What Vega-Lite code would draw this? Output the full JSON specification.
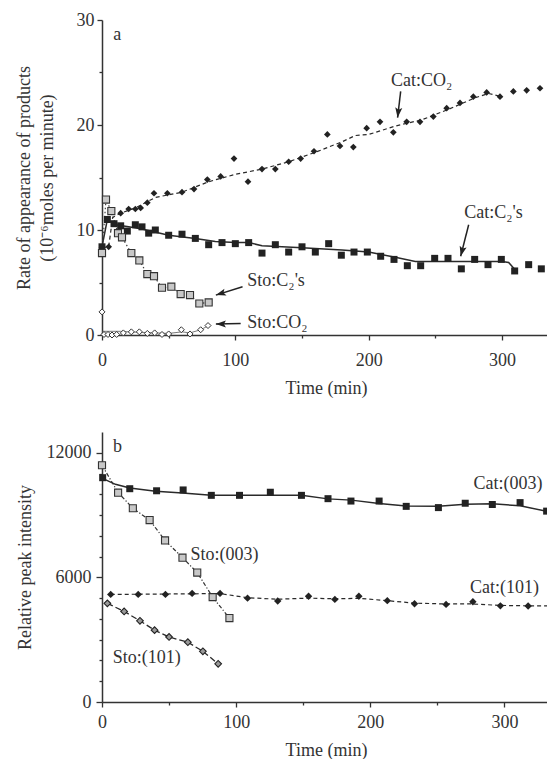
{
  "$schema": "https://vega.github.io/schema/vega-lite/v6.json",
  "background": "white",
  "padding": {"left": 15, "top": 11, "right": 0, "bottom": 0},
  "spacing": 35,
  "config": {
    "view": {"stroke": null},
    "font": "Liberation Serif",
    "axis": {
      "grid": false, "domainColor": "#333", "domainWidth": 1.5, "tickColor": "#333", "tickWidth": 1.3,
      "labelFont": "Liberation Serif", "labelFontSize": 18, "labelColor": "#333", "labelFlush": false, "labelOverlap": false,
      "titleFont": "Liberation Serif", "titleFontSize": 18, "titleFontWeight": "normal", "titleColor": "#333"
    },
    "text": {"font": "Liberation Serif", "fontSize": 18, "fill": "#333"}
  },
  "datasets": {
    "a_pts": [
      {"series":"Cat:CO2","t":0,"v":8.3},{"series":"Cat:CO2","t":5,"v":8.4},{"series":"Cat:CO2","t":14,"v":11.6},{"series":"Cat:CO2","t":20,"v":12.0},{"series":"Cat:CO2","t":25,"v":12.0},{"series":"Cat:CO2","t":29,"v":12.1},{"series":"Cat:CO2","t":34,"v":12.6},{"series":"Cat:CO2","t":39,"v":13.5},{"series":"Cat:CO2","t":49,"v":13.5},{"series":"Cat:CO2","t":60,"v":13.6},{"series":"Cat:CO2","t":69,"v":13.9},{"series":"Cat:CO2","t":79,"v":14.8},{"series":"Cat:CO2","t":89,"v":15.1},{"series":"Cat:CO2","t":99,"v":16.8},{"series":"Cat:CO2","t":109.5,"v":14.6},{"series":"Cat:CO2","t":120,"v":15.8},{"series":"Cat:CO2","t":130,"v":15.8},{"series":"Cat:CO2","t":140,"v":16.5},{"series":"Cat:CO2","t":149,"v":16.8},{"series":"Cat:CO2","t":159,"v":17.5},{"series":"Cat:CO2","t":169,"v":19.1},{"series":"Cat:CO2","t":178.5,"v":18.0},{"series":"Cat:CO2","t":188.5,"v":17.9},{"series":"Cat:CO2","t":198.5,"v":19.7},{"series":"Cat:CO2","t":208.5,"v":20.3},{"series":"Cat:CO2","t":218.5,"v":19.3},{"series":"Cat:CO2","t":228.5,"v":20.3},{"series":"Cat:CO2","t":238.5,"v":20.3},{"series":"Cat:CO2","t":248.5,"v":20.8},{"series":"Cat:CO2","t":258.5,"v":21.6},{"series":"Cat:CO2","t":268.5,"v":22.1},{"series":"Cat:CO2","t":278.5,"v":22.7},{"series":"Cat:CO2","t":288.5,"v":23.1},{"series":"Cat:CO2","t":298.5,"v":22.7},{"series":"Cat:CO2","t":308.5,"v":23.2},{"series":"Cat:CO2","t":318.5,"v":23.3},{"series":"Cat:CO2","t":328.5,"v":23.5},
      {"series":"Cat:C2's","t":0,"v":8.4},{"series":"Cat:C2's","t":4,"v":11.0},{"series":"Cat:C2's","t":9,"v":10.6},{"series":"Cat:C2's","t":14,"v":10.4},{"series":"Cat:C2's","t":19,"v":9.9},{"series":"Cat:C2's","t":25,"v":10.5},{"series":"Cat:C2's","t":30,"v":10.3},{"series":"Cat:C2's","t":35,"v":9.7},{"series":"Cat:C2's","t":40,"v":10.0},{"series":"Cat:C2's","t":50,"v":9.5},{"series":"Cat:C2's","t":60,"v":9.6},{"series":"Cat:C2's","t":70,"v":9.2},{"series":"Cat:C2's","t":80,"v":8.6},{"series":"Cat:C2's","t":90,"v":8.8},{"series":"Cat:C2's","t":100,"v":8.7},{"series":"Cat:C2's","t":110,"v":8.8},{"series":"Cat:C2's","t":120,"v":7.8},{"series":"Cat:C2's","t":130,"v":8.6},{"series":"Cat:C2's","t":140,"v":7.9},{"series":"Cat:C2's","t":150,"v":8.4},{"series":"Cat:C2's","t":160,"v":7.9},{"series":"Cat:C2's","t":170,"v":8.7},{"series":"Cat:C2's","t":179.5,"v":7.6},{"series":"Cat:C2's","t":189,"v":7.9},{"series":"Cat:C2's","t":199,"v":7.9},{"series":"Cat:C2's","t":209,"v":7.5},{"series":"Cat:C2's","t":219,"v":7.2},{"series":"Cat:C2's","t":229,"v":6.6},{"series":"Cat:C2's","t":239,"v":6.6},{"series":"Cat:C2's","t":249.5,"v":7.3},{"series":"Cat:C2's","t":259.5,"v":7.3},{"series":"Cat:C2's","t":269.5,"v":6.3},{"series":"Cat:C2's","t":279.5,"v":7.2},{"series":"Cat:C2's","t":289.5,"v":6.7},{"series":"Cat:C2's","t":299.5,"v":7.2},{"series":"Cat:C2's","t":309.5,"v":6.1},{"series":"Cat:C2's","t":320,"v":6.7},{"series":"Cat:C2's","t":329.5,"v":6.3},
      {"series":"Sto:C2's","t":0,"v":7.8},{"series":"Sto:C2's","t":3,"v":12.9},{"series":"Sto:C2's","t":7,"v":11.8},{"series":"Sto:C2's","t":12,"v":9.7},{"series":"Sto:C2's","t":15,"v":9.3},{"series":"Sto:C2's","t":22,"v":7.8},{"series":"Sto:C2's","t":28,"v":7.1},{"series":"Sto:C2's","t":34,"v":5.8},{"series":"Sto:C2's","t":39,"v":5.6},{"series":"Sto:C2's","t":45,"v":4.5},{"series":"Sto:C2's","t":52,"v":4.6},{"series":"Sto:C2's","t":59,"v":3.9},{"series":"Sto:C2's","t":66,"v":3.8},{"series":"Sto:C2's","t":73,"v":3.0},{"series":"Sto:C2's","t":80,"v":3.1},
      {"series":"Sto:CO2","t":0,"v":2.2},{"series":"Sto:CO2","t":1.5,"v":0.05},{"series":"Sto:CO2","t":4.5,"v":0.05},{"series":"Sto:CO2","t":7.5,"v":0.0},{"series":"Sto:CO2","t":11,"v":0.05},{"series":"Sto:CO2","t":16,"v":0.2},{"series":"Sto:CO2","t":22,"v":0.3},{"series":"Sto:CO2","t":28,"v":0.3},{"series":"Sto:CO2","t":34,"v":0.15},{"series":"Sto:CO2","t":39.5,"v":0.2},{"series":"Sto:CO2","t":45,"v":0.05},{"series":"Sto:CO2","t":50,"v":0.1},{"series":"Sto:CO2","t":59.5,"v":0.5},{"series":"Sto:CO2","t":66,"v":0.1},{"series":"Sto:CO2","t":74,"v":0.5},{"series":"Sto:CO2","t":79.5,"v":0.9}
    ],
    "a_fit": [
      {"series":"Cat:CO2","t":0,"v":8.3},{"series":"Cat:CO2","t":5,"v":8.4},{"series":"Cat:CO2","t":8,"v":11.2},{"series":"Cat:CO2","t":14,"v":11.6},{"series":"Cat:CO2","t":25,"v":12.1},{"series":"Cat:CO2","t":40,"v":13.1},{"series":"Cat:CO2","t":60,"v":13.6},{"series":"Cat:CO2","t":80,"v":14.6},{"series":"Cat:CO2","t":100,"v":15.3},{"series":"Cat:CO2","t":120,"v":15.8},{"series":"Cat:CO2","t":140,"v":16.5},{"series":"Cat:CO2","t":160,"v":17.4},{"series":"Cat:CO2","t":180,"v":18.4},{"series":"Cat:CO2","t":190,"v":19.0},{"series":"Cat:CO2","t":200,"v":19.1},{"series":"Cat:CO2","t":220,"v":19.9},{"series":"Cat:CO2","t":240,"v":20.5},{"series":"Cat:CO2","t":260,"v":21.5},{"series":"Cat:CO2","t":280,"v":22.6},{"series":"Cat:CO2","t":290,"v":23.0},{"series":"Cat:CO2","t":300,"v":22.7},
      {"series":"Cat:C2's","t":0,"v":8.4},{"series":"Cat:C2's","t":4,"v":11.0},{"series":"Cat:C2's","t":10,"v":10.5},{"series":"Cat:C2's","t":20,"v":10.3},{"series":"Cat:C2's","t":30,"v":10.1},{"series":"Cat:C2's","t":50,"v":9.5},{"series":"Cat:C2's","t":70,"v":9.2},{"series":"Cat:C2's","t":85,"v":8.9},{"series":"Cat:C2's","t":100,"v":8.8},{"series":"Cat:C2's","t":110,"v":8.8},{"series":"Cat:C2's","t":120,"v":8.5},{"series":"Cat:C2's","t":150,"v":8.3},{"series":"Cat:C2's","t":180,"v":8.1},{"series":"Cat:C2's","t":200,"v":7.9},{"series":"Cat:C2's","t":220,"v":7.4},{"series":"Cat:C2's","t":235,"v":7.0},{"series":"Cat:C2's","t":250,"v":7.0},{"series":"Cat:C2's","t":300,"v":7.0},{"series":"Cat:C2's","t":305,"v":6.9},{"series":"Cat:C2's","t":310,"v":6.2},
      {"series":"Sto:CO2","t":0,"v":0.35},{"series":"Sto:CO2","t":14,"v":0.35},{"series":"Sto:CO2","t":20,"v":0.3},{"series":"Sto:CO2","t":30,"v":0.25},{"series":"Sto:CO2","t":40,"v":0.2},{"series":"Sto:CO2","t":50,"v":0.15},{"series":"Sto:CO2","t":60,"v":0.3},{"series":"Sto:CO2","t":66,"v":0.2},{"series":"Sto:CO2","t":74,"v":0.5},{"series":"Sto:CO2","t":80,"v":0.9}
    ],
    "a_lab": [
      {"label":"a","t":8.4,"v":28.6},{"label":"Cat:CO₂","t":216.7,"v":24.2},{"label":"Cat:C₂'s","t":271.7,"v":11.6},{"label":"Sto:C₂'s","t":109,"v":5.1},{"label":"Sto:CO₂","t":109,"v":1.1}
    ],
    "a_arr": [
      {"id":"catco2","t":224,"v":23.2,"t2":221.7,"v2":20.7},{"id":"catc2","t":275,"v":10.5,"t2":269,"v2":7.5},{"id":"stoc2","t":105.4,"v":4.6,"t2":85.4,"v2":3.8},{"id":"stoco2","t":104,"v":1.1,"t2":85.4,"v2":1.05}
    ],
    "b_pts": [
      {"series":"Cat:(003)","t":0.5,"v":10800},{"series":"Cat:(003)","t":20.7,"v":10270},{"series":"Cat:(003)","t":40.7,"v":10170},{"series":"Cat:(003)","t":60.5,"v":10210},{"series":"Cat:(003)","t":81.5,"v":9950},{"series":"Cat:(003)","t":102.5,"v":9950},{"series":"Cat:(003)","t":125.5,"v":10100},{"series":"Cat:(003)","t":148.7,"v":9950},{"series":"Cat:(003)","t":168.5,"v":9790},{"series":"Cat:(003)","t":185.6,"v":9675},{"series":"Cat:(003)","t":206.6,"v":9675},{"series":"Cat:(003)","t":226.8,"v":9420},{"series":"Cat:(003)","t":250.8,"v":9360},{"series":"Cat:(003)","t":270.8,"v":9570},{"series":"Cat:(003)","t":291,"v":9510},{"series":"Cat:(003)","t":311.7,"v":9600},{"series":"Cat:(003)","t":331.5,"v":9190},
      {"series":"Sto:(003)","t":0,"v":11400},{"series":"Sto:(003)","t":12,"v":10080},{"series":"Sto:(003)","t":23,"v":9330},{"series":"Sto:(003)","t":35.5,"v":8760},{"series":"Sto:(003)","t":47,"v":7780},{"series":"Sto:(003)","t":60,"v":6950},{"series":"Sto:(003)","t":71,"v":6230},{"series":"Sto:(003)","t":82.5,"v":5050},{"series":"Sto:(003)","t":95,"v":4040},
      {"series":"Cat:(101)","t":6.5,"v":5180},{"series":"Cat:(101)","t":27,"v":5180},{"series":"Cat:(101)","t":47.3,"v":5180},{"series":"Cat:(101)","t":67.2,"v":5230},{"series":"Cat:(101)","t":88,"v":5230},{"series":"Cat:(101)","t":108.5,"v":5000},{"series":"Cat:(101)","t":131,"v":4860},{"series":"Cat:(101)","t":154,"v":5090},{"series":"Cat:(101)","t":173.6,"v":4940},{"series":"Cat:(101)","t":191.5,"v":5090},{"series":"Cat:(101)","t":212.7,"v":4880},{"series":"Cat:(101)","t":233,"v":4730},{"series":"Cat:(101)","t":256.5,"v":4700},{"series":"Cat:(101)","t":276.5,"v":4830},{"series":"Cat:(101)","t":297,"v":4630},{"series":"Cat:(101)","t":317.7,"v":4620},
      {"series":"Sto:(101)","t":4,"v":4750},{"series":"Sto:(101)","t":16.5,"v":4360},{"series":"Sto:(101)","t":28.3,"v":3910},{"series":"Sto:(101)","t":39.2,"v":3460},{"series":"Sto:(101)","t":50,"v":3130},{"series":"Sto:(101)","t":64,"v":2880},{"series":"Sto:(101)","t":75.2,"v":2440},{"series":"Sto:(101)","t":86.6,"v":1840}
    ],
    "b_fit": [
      {"series":"Cat:(003)","t":0,"v":10780},{"series":"Cat:(003)","t":10,"v":10480},{"series":"Cat:(003)","t":20.7,"v":10300},{"series":"Cat:(003)","t":40,"v":10150},{"series":"Cat:(003)","t":60,"v":10060},{"series":"Cat:(003)","t":81.5,"v":9960},{"series":"Cat:(003)","t":102.5,"v":9950},{"series":"Cat:(003)","t":125,"v":9950},{"series":"Cat:(003)","t":148.7,"v":9960},{"series":"Cat:(003)","t":168.5,"v":9780},{"series":"Cat:(003)","t":186,"v":9720},{"series":"Cat:(003)","t":206.6,"v":9560},{"series":"Cat:(003)","t":226.8,"v":9440},{"series":"Cat:(003)","t":250.8,"v":9420},{"series":"Cat:(003)","t":270.8,"v":9520},{"series":"Cat:(003)","t":291,"v":9540},{"series":"Cat:(003)","t":311.7,"v":9450},{"series":"Cat:(003)","t":331.5,"v":9180},
      {"series":"Cat:(101)","t":6.5,"v":5180},{"series":"Cat:(101)","t":88,"v":5220},{"series":"Cat:(101)","t":108.5,"v":5020},{"series":"Cat:(101)","t":131,"v":4950},{"series":"Cat:(101)","t":154,"v":5000},{"series":"Cat:(101)","t":173.6,"v":4970},{"series":"Cat:(101)","t":191.5,"v":4990},{"series":"Cat:(101)","t":212.7,"v":4880},{"series":"Cat:(101)","t":233,"v":4760},{"series":"Cat:(101)","t":256.5,"v":4720},{"series":"Cat:(101)","t":276.5,"v":4720},{"series":"Cat:(101)","t":297,"v":4650},{"series":"Cat:(101)","t":317.7,"v":4630},{"series":"Cat:(101)","t":334,"v":4630}
    ],
    "b_lab": [
      {"label":"b","t":8.2,"v":12300},{"label":"Cat:(003)","t":276.9,"v":10510},{"label":"Cat:(101)","t":274.4,"v":5500},{"label":"Sto:(003)","t":66,"v":7100},{"label":"Sto:(101)","t":8,"v":2120}
    ]
  },
  "vconcat": [
    {
      "width": 448, "height": 315,
      "encoding": {
        "x": {"field": "t", "type": "quantitative", "scale": {"domain": [0, 336], "nice": false, "zero": false},
          "axis": {"title": "Time (min)", "titleFontWeight": "normal", "values": [0, 50, 100, 150, 200, 250, 300],
            "labelExpr": "datum.value % 100 === 0 ? datum.label : ''",
            "tickSize": {"condition": {"test": "datum.value % 100 === 0", "value": 5}, "value": 3},
            "labelPadding": 11, "titlePadding": 10}},
        "y": {"field": "v", "type": "quantitative", "scale": {"domain": [0, 30], "nice": false},
          "axis": {"title": ["Rate of appearance of products", "(10⁻⁶moles per minute)"], "titleFontWeight": "normal", "titleLineHeight": 23,
            "values": [0, 5, 10, 15, 20, 25, 30],
            "labelExpr": "datum.value % 10 === 0 ? datum.label : ''",
            "tickSize": {"condition": {"test": "datum.value % 10 === 0", "value": 5}, "value": 3},
            "labelPadding": 3, "minExtent": 25, "maxExtent": 25, "titlePadding": 21}}
      },
      "layer": [
        {"data": {"values": [{}]}, "mark": {"type": "rule", "color": "#333", "strokeWidth": 1.5},
          "encoding": {"x": {"datum": 0}, "x2": {"datum": 336}, "y": {"datum": 30}}},
        {"data": {"name": "a_fit"}, "transform": [{"filter": "datum.series === 'Cat:CO2'"}],
          "mark": {"type": "line", "color": "#2a2a2a", "strokeWidth": 1.2, "strokeDash": [4, 3]}, "encoding": {}},
        {"data": {"name": "a_fit"}, "transform": [{"filter": "datum.series === \"Cat:C2's\""}],
          "mark": {"type": "line", "color": "#2a2a2a", "strokeWidth": 1.5}, "encoding": {}},
        {"data": {"name": "a_fit"}, "transform": [{"filter": "datum.series === 'Sto:CO2'"}],
          "mark": {"type": "line", "color": "#555", "strokeWidth": 0.8}, "encoding": {}},
        {"data": {"name": "a_pts"}, "transform": [{"filter": "datum.series === \"Sto:C2's\""}],
          "mark": {"type": "line", "color": "#444", "strokeWidth": 1.2, "strokeDash": [1.5, 2.5]}, "encoding": {}},
        {"data": {"name": "a_pts"}, "transform": [{"filter": "datum.series === 'Cat:CO2'"}],
          "mark": {"type": "point", "shape": "diamond", "size": 45, "filled": true, "color": "#222", "opacity": 1}},
        {"data": {"name": "a_pts"}, "transform": [{"filter": "datum.series === \"Cat:C2's\""}],
          "mark": {"type": "point", "shape": "square", "size": 49, "filled": true, "color": "#222", "opacity": 1}},
        {"data": {"name": "a_pts"}, "transform": [{"filter": "datum.series === \"Sto:C2's\""}],
          "mark": {"type": "point", "shape": "square", "size": 50, "fill": "#c8c8c8", "stroke": "#333", "strokeWidth": 1.1, "opacity": 1}},
        {"data": {"name": "a_pts"}, "transform": [{"filter": "datum.series === 'Sto:CO2'"}],
          "mark": {"type": "point", "shape": "diamond", "size": 36, "fill": "#fff", "stroke": "#333", "strokeWidth": 1, "opacity": 1}},
        {"data": {"name": "a_lab"}, "mark": {"type": "text", "align": "left", "baseline": "middle", "fontSize": 18, "color": "#333"},
          "encoding": {"text": {"field": "label"}}},
        {"data": {"name": "a_arr"}, "mark": {"type": "rule", "color": "#222", "strokeWidth": 1.5},
          "encoding": {"x2": {"field": "t2"}, "y2": {"field": "v2"}}},
        {"data": {"name": "a_arr"}, "transform": [{"filter": "datum.id === 'catco2'"}],
          "mark": {"type": "point", "shape": "M0,0L0.6,1.7L0,1.35L-0.6,1.7Z", "size": 140, "filled": true, "color": "#222", "opacity": 1, "angle": 186.7},
          "encoding": {"x": {"field": "t2", "type": "quantitative"}, "y": {"field": "v2", "type": "quantitative"}}},
        {"data": {"name": "a_arr"}, "transform": [{"filter": "datum.id === 'catc2'"}],
          "mark": {"type": "point", "shape": "M0,0L0.6,1.7L0,1.35L-0.6,1.7Z", "size": 140, "filled": true, "color": "#222", "opacity": 1, "angle": 194.3},
          "encoding": {"x": {"field": "t2", "type": "quantitative"}, "y": {"field": "v2", "type": "quantitative"}}},
        {"data": {"name": "a_arr"}, "transform": [{"filter": "datum.id === 'stoc2'"}],
          "mark": {"type": "point", "shape": "M0,0L0.6,1.7L0,1.35L-0.6,1.7Z", "size": 140, "filled": true, "color": "#222", "opacity": 1, "angle": 252.7},
          "encoding": {"x": {"field": "t2", "type": "quantitative"}, "y": {"field": "v2", "type": "quantitative"}}},
        {"data": {"name": "a_arr"}, "transform": [{"filter": "datum.id === 'stoco2'"}],
          "mark": {"type": "point", "shape": "M0,0L0.6,1.7L0,1.35L-0.6,1.7Z", "size": 140, "filled": true, "color": "#222", "opacity": 1, "angle": 270},
          "encoding": {"x": {"field": "t2", "type": "quantitative"}, "y": {"field": "v2", "type": "quantitative"}}}
      ]
    },
    {
      "width": 448, "height": 270,
      "encoding": {
        "x": {"field": "t", "type": "quantitative", "scale": {"domain": [0, 334], "nice": false, "zero": false},
          "axis": {"title": "Time (min)", "titleFontWeight": "normal", "values": [0, 50, 100, 150, 200, 250, 300],
            "labelExpr": "datum.value % 100 === 0 ? datum.label : ''",
            "tickSize": {"condition": {"test": "datum.value % 100 === 0", "value": 5}, "value": 3},
            "labelPadding": 6, "titlePadding": 10}},
        "y": {"field": "v", "type": "quantitative", "scale": {"domain": [0, 13000], "nice": false},
          "axis": {"title": "Relative peak intensity", "titleFontWeight": "normal", "format": "d",
            "values": [0, 1000, 2000, 3000, 4000, 5000, 6000, 7000, 8000, 9000, 10000, 11000, 12000],
            "labelExpr": "datum.value % 6000 === 0 ? datum.label : ''",
            "tickSize": {"condition": {"test": "datum.value % 6000 === 0", "value": 6}, "value": 3},
            "labelPadding": 5, "minExtent": 56, "maxExtent": 56, "titlePadding": 12}}
      },
      "layer": [
        {"data": {"values": [{}]}, "mark": {"type": "rule", "color": "#333", "strokeWidth": 1.5},
          "encoding": {"x": {"datum": 0}, "x2": {"datum": 334}, "y": {"datum": 13000}}},
        {"data": {"name": "b_fit"}, "transform": [{"filter": "datum.series === 'Cat:(003)'"}],
          "mark": {"type": "line", "color": "#2a2a2a", "strokeWidth": 1.5}, "encoding": {}},
        {"data": {"name": "b_fit"}, "transform": [{"filter": "datum.series === 'Cat:(101)'"}],
          "mark": {"type": "line", "color": "#2a2a2a", "strokeWidth": 1.2, "strokeDash": [4, 3]}, "encoding": {}},
        {"data": {"name": "b_pts"}, "transform": [{"filter": "datum.series === 'Sto:(003)'"}],
          "mark": {"type": "line", "color": "#333", "strokeWidth": 1.2, "strokeDash": [4, 2, 1.2, 2]}, "encoding": {}},
        {"data": {"name": "b_pts"}, "transform": [{"filter": "datum.series === 'Sto:(101)'"}],
          "mark": {"type": "line", "color": "#2a2a2a", "strokeWidth": 1.3, "strokeDash": [6, 3]}, "encoding": {}},
        {"data": {"name": "b_pts"}, "transform": [{"filter": "datum.series === 'Cat:(003)'"}],
          "mark": {"type": "point", "shape": "square", "size": 49, "filled": true, "color": "#222", "opacity": 1}},
        {"data": {"name": "b_pts"}, "transform": [{"filter": "datum.series === 'Sto:(003)'"}],
          "mark": {"type": "point", "shape": "square", "size": 50, "fill": "#c8c8c8", "stroke": "#333", "strokeWidth": 1.1, "opacity": 1}},
        {"data": {"name": "b_pts"}, "transform": [{"filter": "datum.series === 'Cat:(101)'"}],
          "mark": {"type": "point", "shape": "diamond", "size": 55, "filled": true, "color": "#222", "opacity": 1}},
        {"data": {"name": "b_pts"}, "transform": [{"filter": "datum.series === 'Sto:(101)'"}],
          "mark": {"type": "point", "shape": "diamond", "size": 45, "fill": "#999", "stroke": "#222", "strokeWidth": 1.1, "opacity": 1}},
        {"data": {"name": "b_lab"}, "mark": {"type": "text", "align": "left", "baseline": "middle", "fontSize": 18, "color": "#333"},
          "encoding": {"text": {"field": "label"}}}
      ]
    }
  ]
}
